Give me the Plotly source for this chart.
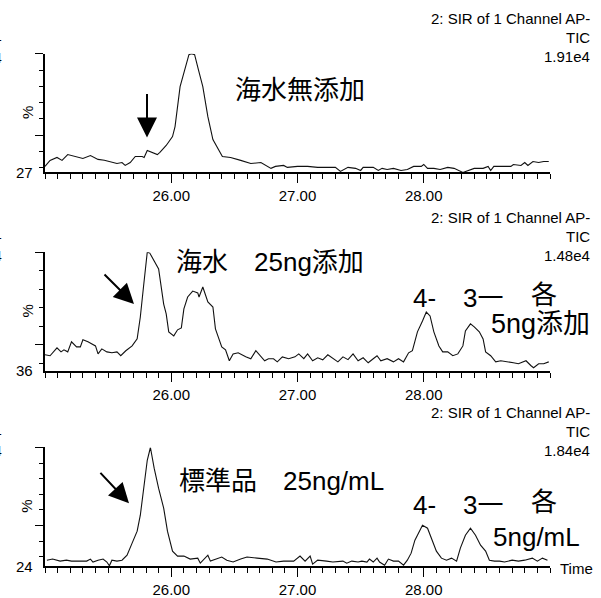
import plotly.graph_objects as go
import numpy as np

W, H = 601, 598

# ---------------- data (retention time in min, intensity in %) ----------------
time1 = [25.00, 25.04, 25.095, 25.135, 25.18, 25.24, 25.30, 25.36, 25.42, 25.47,
         25.52, 25.57, 25.61, 25.635, 25.675, 25.715, 25.77, 25.785, 25.81, 25.85,
         25.89, 25.91, 25.96, 26.01, 26.03, 26.07, 26.11, 26.14, 26.16, 26.185,
         26.215, 26.25, 26.29, 26.33, 26.405, 26.47, 26.55, 26.63, 26.71, 26.79,
         26.825, 26.89, 26.92, 27.00, 27.08, 27.16, 27.24, 27.30, 27.34, 27.40,
         27.46, 27.50, 27.52, 27.60, 27.64, 27.67, 27.71, 27.76, 27.82, 27.87,
         27.92, 27.98, 28.00, 28.03, 28.08, 28.13, 28.19, 28.24, 28.31, 28.35,
         28.40, 28.47, 28.51, 28.53, 28.555, 28.635, 28.69, 28.71, 28.77, 28.80,
         28.825, 28.865, 28.91, 28.95, 28.99]
pct1 = [30.7, 34.4, 36.2, 34.4, 38.0, 36.8, 35.6, 37.4, 35.0, 34.5,
        33.7, 32.5, 33.1, 31.3, 33.1, 36.8, 36.8, 36.2, 40.5, 39.3,
        38.0, 39.3, 43.6, 49.1, 55.2, 79.8, 92.0, 99.5, 100.0, 99.5,
        90.2, 79.8, 61.3, 47.2, 36.8, 36.2, 34.4, 32.5, 33.1, 29.5,
        30.7, 31.3, 30.1, 30.7, 30.7, 30.1, 30.1, 30.1, 27.6, 30.1,
        29.5, 28.2, 30.1, 30.1, 28.2, 29.5, 28.8, 29.5, 28.2, 28.8,
        30.7, 30.7, 31.9, 29.5, 29.5, 28.8, 30.1, 29.5, 27.0, 28.2,
        29.5, 29.5, 30.7, 28.2, 30.7, 30.7, 30.7, 31.9, 31.3, 33.1,
        31.3, 33.7, 33.1, 33.7, 33.7]

time2 = [25.00, 25.04, 25.095, 25.127, 25.15, 25.18, 25.21, 25.25, 25.28, 25.30,
         25.34, 25.40, 25.42, 25.45, 25.49, 25.53, 25.57, 25.60, 25.64, 25.69,
         25.73, 25.755, 25.78, 25.81, 25.83, 25.87, 25.90, 25.94, 25.96, 25.98,
         26.02, 26.05, 26.08, 26.10, 26.13, 26.17, 26.21, 26.22, 26.25, 26.29,
         26.33, 26.35, 26.40, 26.43, 26.46, 26.49, 26.53, 26.59, 26.63, 26.67,
         26.71, 26.74, 26.77, 26.81, 26.84, 26.88, 26.93, 26.98, 27.01, 27.05,
         27.08, 27.12, 27.16, 27.20, 27.24, 27.28, 27.32, 27.36, 27.40, 27.44,
         27.48, 27.52, 27.56, 27.60, 27.63, 27.66, 27.71, 27.76, 27.80, 27.84,
         27.88, 27.91, 27.95, 27.99, 28.02, 28.05, 28.08, 28.12, 28.15, 28.19,
         28.23, 28.27, 28.31, 28.33, 28.37, 28.40, 28.44, 28.47, 28.49, 28.53,
         28.57, 28.61, 28.65, 28.71, 28.75, 28.81, 28.85, 28.87, 28.91, 28.95,
         28.99]
pct2 = [44.6, 44.1, 48.4, 46.2, 47.3, 46.2, 51.6, 48.9, 48.9, 52.7,
        51.6, 49.4, 45.1, 47.8, 46.2, 45.7, 46.2, 44.1, 46.8, 49.4,
        53.2, 65.0, 81.2, 100.0, 99.5, 94.6, 90.9, 72.0, 66.7, 57.0,
        54.8, 58.1, 59.1, 69.4, 75.8, 79.0, 78.0, 75.8, 81.2, 73.1,
        70.4, 58.6, 48.9, 47.3, 41.4, 45.1, 45.7, 43.5, 42.5, 46.8,
        43.5, 41.4, 42.5, 42.5, 40.8, 43.5, 42.5, 43.5, 45.1, 42.5,
        45.1, 41.4, 43.0, 41.9, 44.6, 42.5, 40.8, 43.5, 42.0, 45.1,
        41.4, 43.0, 40.3, 42.5, 44.1, 41.4, 42.5, 40.8, 42.5, 40.8,
        45.7, 46.8, 57.0, 62.9, 67.7, 65.6, 57.0, 49.4, 46.2, 46.2,
        44.1, 45.1, 49.4, 57.5, 61.3, 59.7, 57.0, 53.2, 46.2, 44.1,
        40.8, 41.4, 40.8, 40.3, 39.8, 41.4, 38.7, 37.6, 39.8, 39.8,
        40.8]

time3 = [25.015, 25.06, 25.12, 25.17, 25.21, 25.28, 25.33, 25.36, 25.38, 25.42,
         25.46, 25.49, 25.51, 25.53, 25.57, 25.61, 25.65, 25.69, 25.73, 25.755,
         25.78, 25.81, 25.835, 25.865, 25.90, 25.94, 25.97, 26.01, 26.05, 26.10,
         26.15, 26.21, 26.23, 26.29, 26.31, 26.35, 26.40, 26.44, 26.49, 26.55,
         26.60, 26.68, 26.76, 26.83, 26.89, 26.97, 27.02, 27.06, 27.10, 27.12,
         27.16, 27.23, 27.28, 27.36, 27.39, 27.43, 27.48, 27.51, 27.55, 27.57,
         27.60, 27.63, 27.65, 27.69, 27.72, 27.76, 27.80, 27.84, 27.87, 27.90,
         27.93, 27.95, 27.99, 28.03, 28.07, 28.10, 28.14, 28.18, 28.22, 28.26,
         28.29, 28.33, 28.37, 28.41, 28.45, 28.49, 28.52, 28.56, 28.60, 28.64,
         28.70, 28.75, 28.80, 28.86, 28.90, 28.94, 28.98]
pct3 = [27.8, 28.5, 27.2, 27.8, 27.2, 27.2, 27.2, 28.5, 26.6, 27.8,
        28.5, 26.6, 24.2, 27.8, 27.2, 27.8, 31.0, 38.7, 46.4, 56.6,
        71.9, 91.8, 100.0, 86.6, 73.8, 61.1, 46.4, 33.6, 30.4, 30.4,
        28.5, 29.1, 25.9, 31.0, 27.2, 28.5, 29.8, 27.8, 26.6, 28.5,
        29.8, 29.1, 28.5, 26.6, 27.2, 27.2, 30.4, 27.2, 30.4, 25.3,
        27.8, 27.2, 26.6, 27.2, 25.9, 27.2, 26.6, 27.2, 26.6, 28.5,
        26.6, 29.1, 26.6, 24.6, 28.5, 27.2, 27.2, 24.6, 27.8, 32.3,
        40.6, 43.8, 50.2, 48.3, 40.0, 33.6, 29.1, 27.8, 29.1, 27.2,
        35.5, 43.8, 48.3, 43.8, 37.4, 33.6, 27.8, 27.2, 27.2, 26.6,
        27.8, 27.2, 27.8, 29.1, 27.2, 29.1, 27.8]

offsets = [27, 36, 24]
scale_labels = ["1.91e4", "1.48e4", "1.84e4"]
header_line1 = "2: SIR of 1 Channel AP-"
header_line2 = "TIC"
x_major_labels = {26.0: "26.00", 27.0: "27.00", 28.0: "28.00"}

times = [time1, time2, time3]
pcts = [pct1, pct2, pct3]

# ---------------- layout geometry (pixels) ----------------
top_px = [54, 253, 449]
base_px = [173, 372, 568]
x_left_px, x_right_px = 45, 550

LAT = "Liberation Sans, Arial, sans-serif"
JP = "Liberation Sans, Noto Sans CJK JP, sans-serif"


def px(x):
    return x / W


def py(y):
    return 1 - y / H


fig = go.Figure()
major_x = [25.5 + 0.5 * k for k in range(8)]
minor_x = [round(25.0 + 0.1 * k, 2) for k in range(41)]

annotations = []
for i in range(3):
    n = "" if i == 0 else str(i + 1)
    fig.add_trace(go.Scatter(x=times[i], y=pcts[i], mode="lines",
                             line=dict(color="#111111", width=1.1),
                             xaxis="x" + n, yaxis="y" + n, showlegend=False,
                             hoverinfo="skip"))
    off = offsets[i]
    fig.layout["xaxis" + n] = dict(
        domain=[px(x_left_px), px(x_right_px)], range=[25.0, 29.0],
        anchor="y" + n, showline=True, linecolor="black", linewidth=2,
        ticks="outside", ticklen=9, tickwidth=1, tickcolor="black",
        tickmode="array", tickvals=major_x,
        ticktext=[x_major_labels.get(v, "") for v in major_x],
        minor=dict(tickmode="array", tickvals=minor_x, ticks="outside",
                   ticklen=5, tickwidth=1, tickcolor="black"),
        showgrid=False, zeroline=False,
        tickfont=dict(family=LAT, size=15, color="black"))
    fig.layout["yaxis" + n] = dict(
        domain=[py(base_px[i]), py(top_px[i])], range=[off, 100],
        anchor="x" + n, showline=True, linecolor="black", linewidth=2,
        ticks="outside", ticklen=8, tickwidth=1, tickcolor="black",
        tickmode="array", tickvals=[50, 100], showticklabels=False,
        minor=dict(tickmode="array",
                   tickvals=[v for v in range(30, 100, 10) if v > off and v != 50],
                   ticks="outside", ticklen=4, tickwidth=1, tickcolor="black"),
        showgrid=False, zeroline=False)

    # headers
    t = top_px[i]
    for txt, yy in [(header_line1, t - 35), (header_line2, t - 16), (scale_labels[i], t + 3)]:
        annotations.append(dict(text=txt, x=px(592), y=py(yy), xref="paper", yref="paper",
                                xanchor="right", yanchor="middle", showarrow=False,
                                font=dict(family=LAT, size=15, color="black")))
    # y-axis labels
    annotations.append(dict(text=str(off), x=px(35), y=py(base_px[i]), xref="paper",
                            yref="paper", xanchor="right", yanchor="middle", showarrow=False,
                            font=dict(family=LAT, size=15, color="black")))
    annotations.append(dict(text="%", x=px(27), y=py((t + base_px[i]) / 2), xref="paper",
                            yref="paper", xanchor="center", yanchor="middle", showarrow=False,
                            textangle=-90, font=dict(family=LAT, size=15, color="black")))
    # cut-off fragments at left edge (as in the reference)
    for txt, yy in [("1", t - 18), ("4", t + 4)]:
        annotations.append(dict(text=txt, x=px(4), y=py(yy), xref="paper", yref="paper",
                                xanchor="right", yanchor="middle", showarrow=False,
                                font=dict(family=LAT, size=14, color="black")))

annotations.append(dict(text="Time", x=px(558), y=py(570), xref="paper", yref="paper",
                        xanchor="left", yanchor="middle", showarrow=False,
                        font=dict(family=LAT, size=15, color="black")))


# Japanese labels
def jp(text, x, y, size=26):
    annotations.append(dict(text=text, x=px(x), y=py(y), xref="paper", yref="paper",
                            xanchor="left", yanchor="middle", showarrow=False,
                            font=dict(family=JP, size=size, color="black")))


jp("海水無添加", 233, 90)
jp("海水　25ng添加", 174, 263)
jp("4-", 411, 299)
jp("3一", 461, 299)
jp("各", 529, 296)
jp("5ng添加", 489, 325, 27)
jp("標準品　25ng/mL", 177, 483)
jp("4-", 411, 507)
jp("3一", 461, 507)
jp("各", 529, 504)
jp("5ng/mL", 491, 539)

# arrows
for tip, tail in [((147, 138), (147, 93)), ((134, 305), (103, 274)), ((129, 505), (99, 473))]:
    annotations.append(dict(text="", x=px(tip[0]), y=py(tip[1]), xref="paper", yref="paper",
                            ax=tail[0] - tip[0], ay=tail[1] - tip[1], showarrow=True,
                            arrowhead=2, arrowsize=2, arrowwidth=2, arrowcolor="black",
                            standoff=0))

fig.update_layout(width=W, height=H, margin=dict(l=0, r=0, t=0, b=0),
                  paper_bgcolor="white", plot_bgcolor="white",
                  annotations=annotations, showlegend=False)

fig.write_html("out.html")
